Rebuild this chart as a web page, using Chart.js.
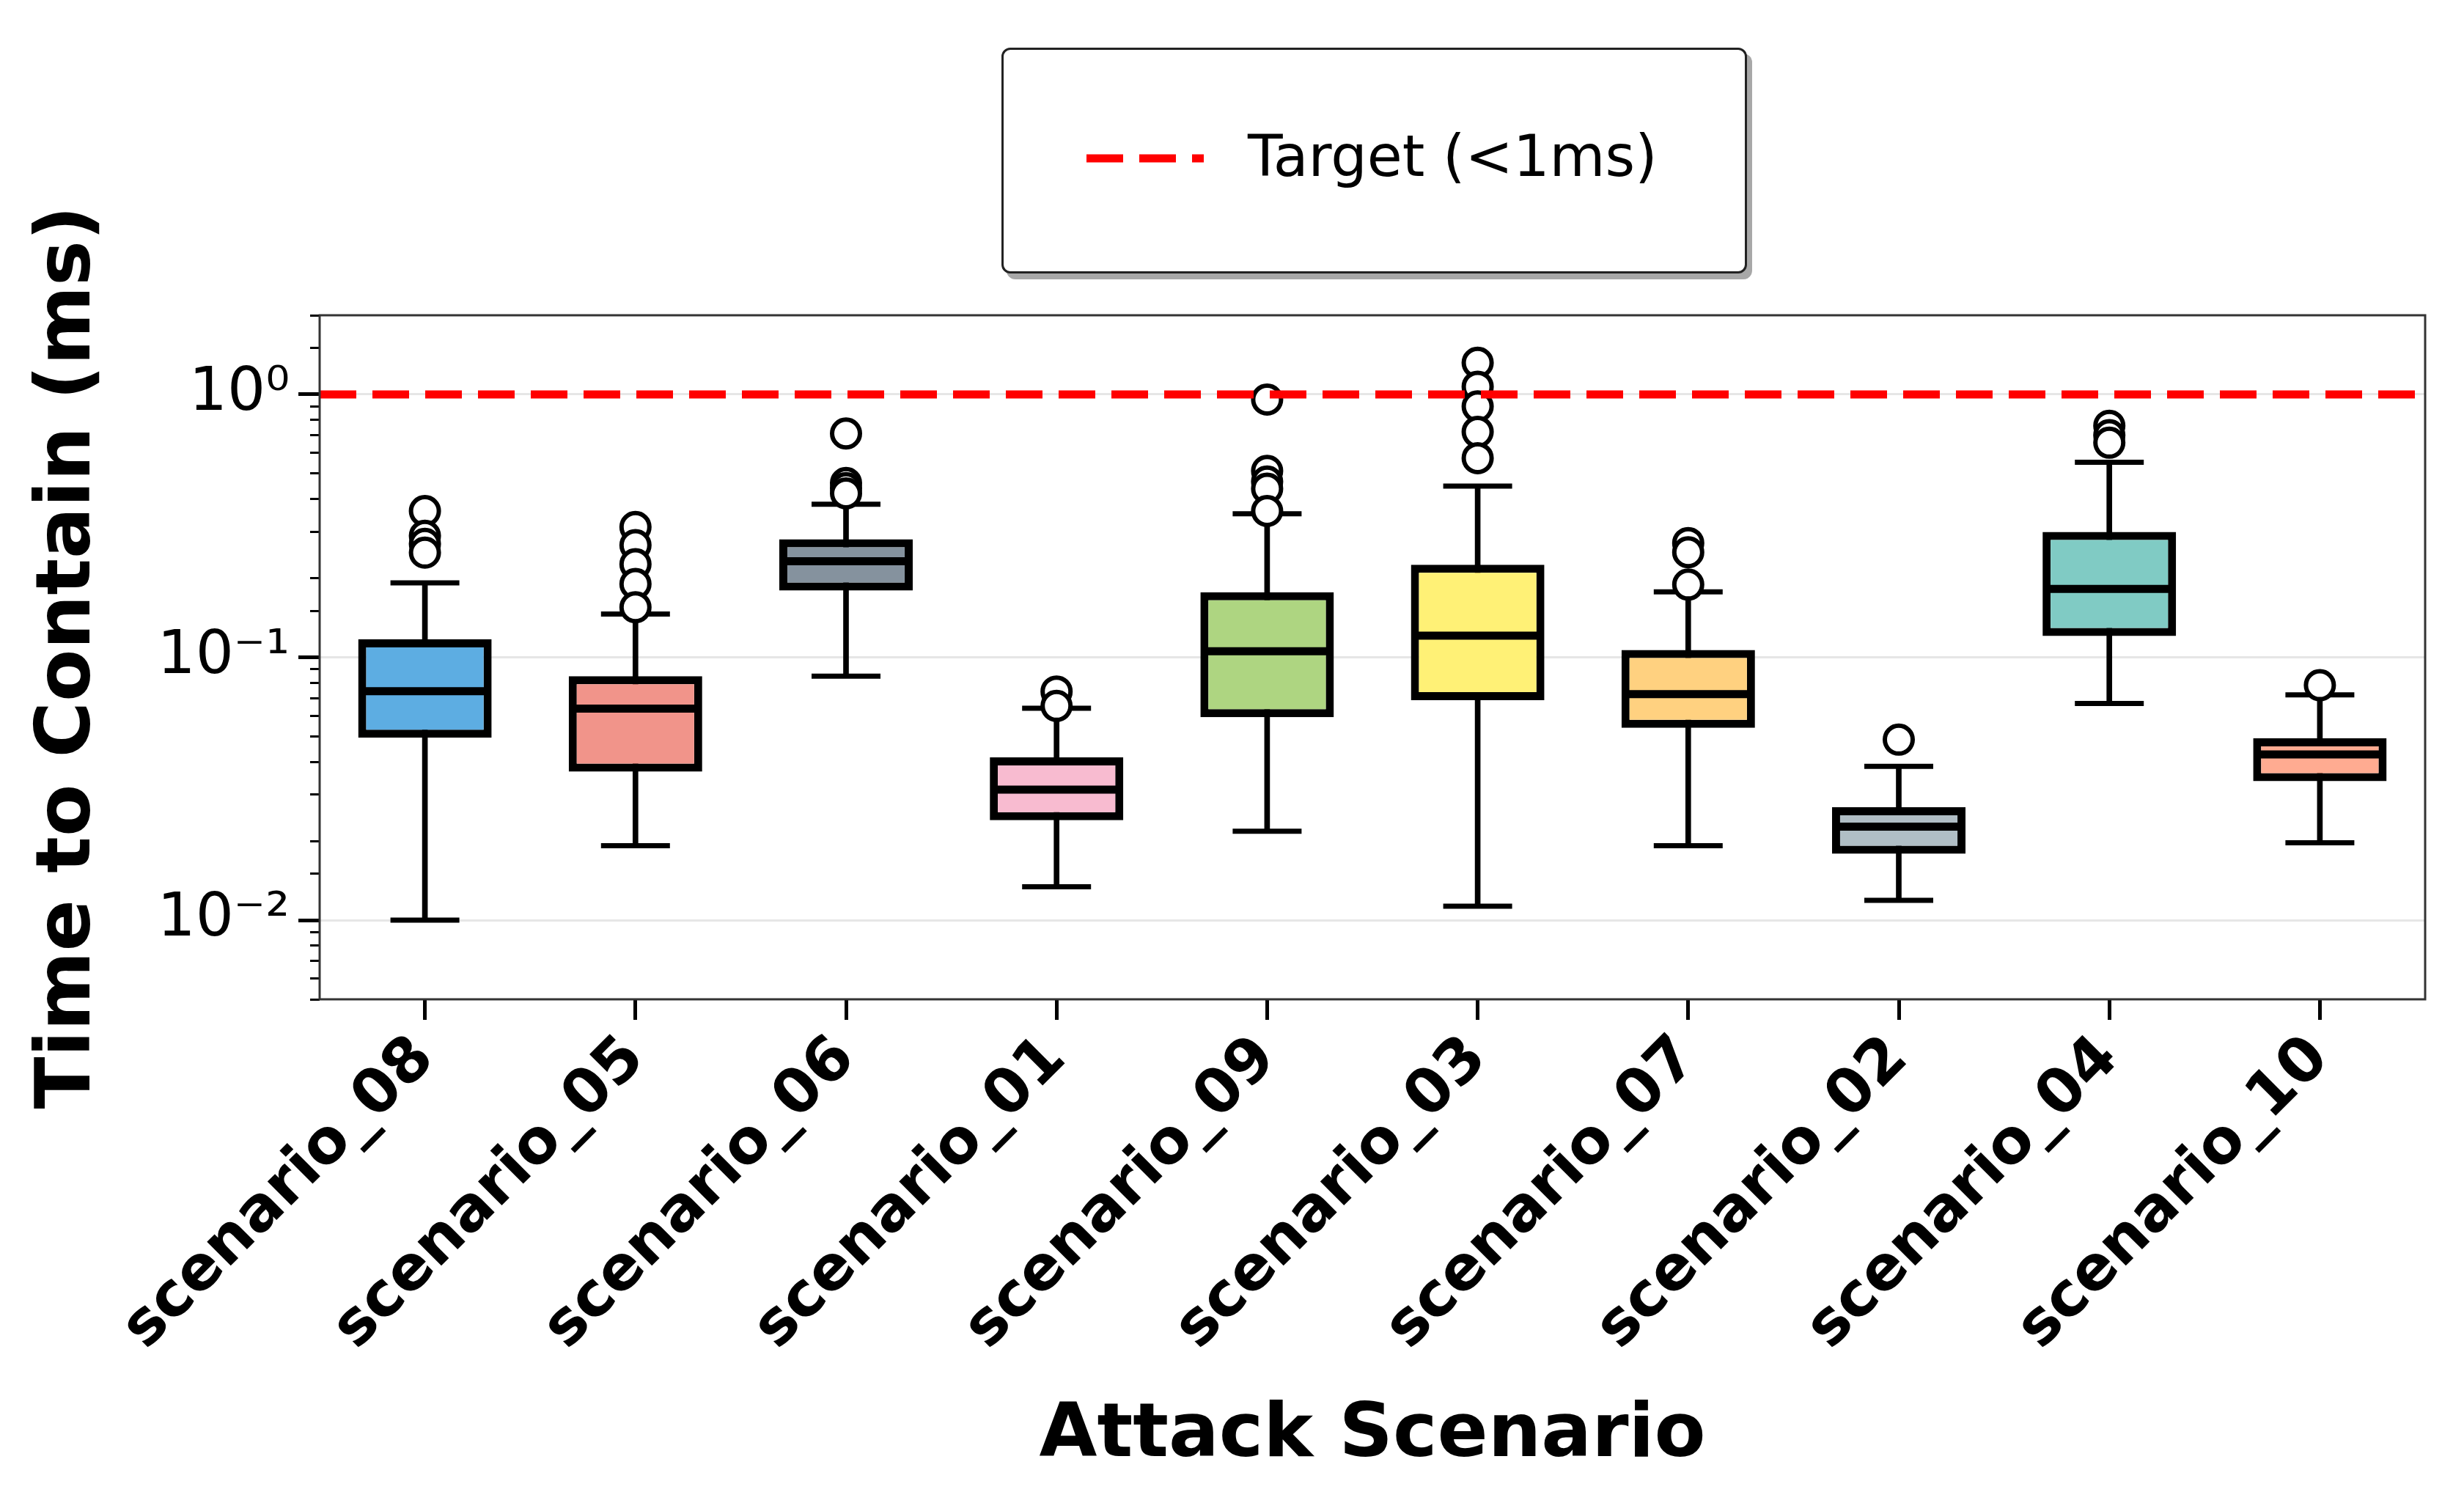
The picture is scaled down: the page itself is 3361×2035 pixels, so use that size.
<!DOCTYPE html>
<html>
<head>
<meta charset="utf-8">
<title>Time to Contain by Attack Scenario</title>
<script src="https://cdn.jsdelivr.net/npm/chart.js@4.4.1/dist/chart.umd.min.js"></script>
<style>
  html, body { margin: 0; padding: 0; background: #fff; }
  #wrap { position: relative; width: 3361px; height: 2035px; }
  #legendBox {
    position: absolute; left: 1366px; top: 65px; width: 1011px; height: 302px;
    border: 3px solid #222; border-radius: 12px; background: #fff;
    box-shadow: 7px 8px 0 #a8a8a8;
    font-family: "DejaVu Sans", sans-serif; font-size: 78px; color: #000;
  }
  #legendBox svg { position: absolute; left: 113px; top: 137px; }
  #legendText { position: absolute; left: 333px; top: 147px; line-height: 1; transform: translateY(-52%); white-space: nowrap; }
</style>
</head>
<body>
<div id="wrap">
  <canvas id="chart"></canvas>
  <div id="legendBox">
    <svg width="162" height="22"><line x1="0" y1="11" x2="160" y2="11" stroke="#ff0000" stroke-width="11" stroke-dasharray="50 22"/></svg>
    <span id="legendText"></span>
  </div>
</div>
<script>
// box plot values (ms, log axis)
const scenarios = ["scenario_08", "scenario_05", "scenario_06", "scenario_01", "scenario_09",
                   "scenario_03", "scenario_07", "scenario_02", "scenario_04", "scenario_10"];
const whiskerLow  = [0.0100, 0.0192, 0.0847, 0.0134, 0.0218, 0.0113, 0.0192, 0.0119, 0.0667, 0.0197];
const q1          = [0.0494, 0.0367, 0.1795, 0.0240, 0.0592, 0.0687, 0.0539, 0.0179, 0.1204, 0.0338];
const median      = [0.0743, 0.0638, 0.232,  0.0314, 0.1054, 0.1208, 0.0724, 0.0227, 0.182,  0.0427];
const q3          = [0.117,  0.0847, 0.281,  0.0416, 0.1767, 0.225,  0.1066, 0.0269, 0.300,  0.0492];
const whiskerHigh = [0.192,  0.146,  0.382,  0.0640, 0.3516, 0.448,  0.1774, 0.0385, 0.552,  0.0719];
const outliers = [
  [0.36, 0.29, 0.27, 0.25],
  [0.313, 0.267, 0.226, 0.19, 0.155],
  [0.71, 0.46, 0.44, 0.42],
  [0.0741, 0.0653],
  [0.956, 0.512, 0.466, 0.438, 0.36],
  [1.32, 1.07, 0.90, 0.72, 0.572],
  [0.272, 0.251, 0.189],
  [0.0486],
  [0.76, 0.70, 0.655],
  [0.0783]
];
const boxColors = ["#5DADE2", "#F1948A", "#85929E", "#F8BBD0", "#AED581",
                   "#FFF176", "#FFD180", "#B0BEC5", "#80CBC4", "#FFAB91"];

const targetValue = 1;
const targetLabel = "Target (<1ms)";
const majorTicks = [0.01, 0.1, 1];
const majorTickLabels = ["10\u207B\u00B2", "10\u207B\u00B9", "10\u2070"];
const yMin = 0.005, yMax = 2.0;

const FONT = "DejaVu Sans";

document.getElementById("legendText").textContent = targetLabel;

// frame around the plot (all four spines)
const framePlugin = {
  id: "frame",
  afterDatasetsDraw(chart) {
    const { ctx, chartArea: a } = chart;
    ctx.save();
    ctx.strokeStyle = "#333";
    ctx.lineWidth = 3;
    ctx.strokeRect(a.left, a.top, a.right - a.left, a.bottom - a.top);
    ctx.restore();
  }
};

const capPoints = [];
scenarios.forEach((s, i) => {
  capPoints.push({ x: s, y: whiskerLow[i] });
  capPoints.push({ x: s, y: whiskerHigh[i] });
});
const flierPoints = [];
outliers.forEach((vals, i) => vals.forEach(v => flierPoints.push({ x: scenarios[i], y: v })));

const ctx = document.getElementById("chart").getContext("2d");
const chart = new Chart(ctx, {
  type: "bar",
  data: {
    labels: scenarios,
    datasets: [
      {
        label: "whiskers",
        type: "bar",
        data: scenarios.map((s, i) => [whiskerLow[i], whiskerHigh[i]]),
        backgroundColor: "#000",
        barThickness: 7,
        grouped: false,
        order: 5
      },
      {
        label: "IQR",
        type: "bar",
        data: scenarios.map((s, i) => [q1[i], q3[i]]),
        backgroundColor: boxColors,
        borderColor: "#000",
        borderWidth: 11,
        borderSkipped: false,
        barPercentage: 0.634,
        categoryPercentage: 1,
        grouped: false,
        order: 4
      },
      {
        label: "median",
        type: "line",
        data: scenarios.map((s, i) => ({ x: s, y: median[i] })),
        showLine: false,
        pointStyle: "line",
        pointRadius: 87,
        pointBorderWidth: 11,
        pointBorderColor: "#000",
        order: 3
      },
      {
        label: "caps",
        type: "line",
        data: capPoints,
        showLine: false,
        pointStyle: "line",
        pointRadius: 47,
        pointBorderWidth: 7,
        pointBorderColor: "#000",
        order: 3
      },
      {
        label: "outliers",
        type: "line",
        data: flierPoints,
        showLine: false,
        pointStyle: "circle",
        pointRadius: 19,
        pointBackgroundColor: "#fff",
        pointBorderColor: "#000",
        pointBorderWidth: 6,
        order: 2
      },
      {
        label: targetLabel,
        type: "line",
        xAxisID: "x2",
        data: [{ x: 0, y: targetValue }, { x: 1, y: targetValue }],
        borderColor: "#ff0000",
        borderWidth: 11,
        borderDash: [50, 22],
        pointRadius: 0,
        order: 1
      }
    ]
  },
  options: {
    responsive: true,
    maintainAspectRatio: false,
    animation: false,
    events: [],
    // the wide "line" points used for medians/caps would otherwise push the plot inward
    layout: { autoPadding: false, padding: { top: 430, right: 53, left: 0, bottom: 0 } },
    plugins: {
      legend: { display: false },
      tooltip: { enabled: false }
    },
    scales: {
      x: {
        type: "category",
        offset: true,
        afterFit(s) {
          s.height = 672;
          s.paddingLeft = 0;
          s.paddingRight = 0;
        },
        grid: { drawOnChartArea: false, offset: false, tickLength: 28, tickWidth: 5, tickColor: "#000" },
        border: { display: false },
        ticks: {
          font: { family: FONT, size: 84, weight: "bold" },
          color: "#000",
          minRotation: 45,
          maxRotation: 45,
          autoSkip: false,
          padding: 4
        },
        title: {
          display: true,
          text: "Attack Scenario",
          font: { family: FONT, size: 102, weight: "bold" },
          color: "#000",
          padding: { top: 0, bottom: 14 }
        }
      },
      x2: { type: "linear", display: false, offset: false, min: 0, max: 1 },
      y: {
        type: "logarithmic",
        min: yMin,
        max: yMax,
        weight: 1,
        afterBuildTicks(s) { s.ticks = majorTicks.map(v => ({ value: v })); },
        afterFit(s) { s.width = 436; },
        grid: { color: "#e6e6e6", lineWidth: 3, tickColor: "#000", tickWidth: 5, tickLength: 29 },
        border: { display: false },
        ticks: {
          callback: (v, i) => majorTickLabels[i],
          font: { family: FONT, size: 82 },
          color: "#000",
          padding: 12
        },
        title: {
          display: true,
          text: "Time to Contain (ms)",
          font: { family: FONT, size: 104, weight: "bold" },
          color: "#000",
          padding: { top: 33, bottom: 0 }
        }
      },
      // minor ticks of the log axis
      yMinor: {
        type: "logarithmic",
        position: "left",
        min: yMin,
        max: yMax,
        weight: 0,
        afterFit(s) { s.width = 0; },
        grid: { drawOnChartArea: false, tickLength: 13, tickWidth: 3, tickColor: "#000" },
        border: { display: false },
        ticks: { callback: () => "", autoSkip: false, font: { size: 1 }, padding: 0 }
      }
    }
  },
  plugins: [framePlugin]
});
</script>
</body>
</html>
